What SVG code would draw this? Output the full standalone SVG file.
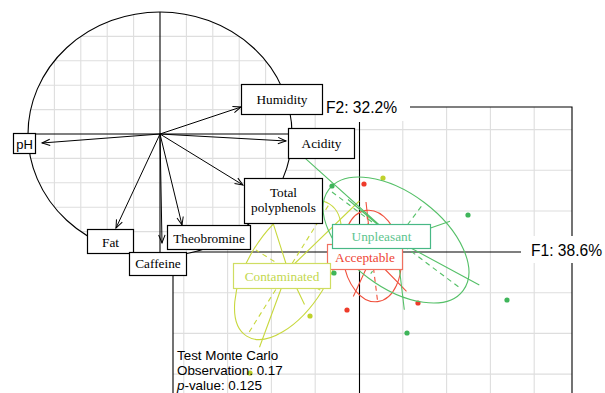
<svg xmlns="http://www.w3.org/2000/svg" width="605" height="393" viewBox="0 0 605 393">
  <defs>
    <clipPath id="frameClip"><rect x="173" y="107" width="399" height="300"/></clipPath>
    <clipPath id="circleClip"><ellipse cx="160" cy="134" rx="132" ry="122"/></clipPath>
    <marker id="arr" viewBox="-10 -5 12 10" refX="0" refY="0" markerWidth="12" markerHeight="10" markerUnits="userSpaceOnUse" orient="auto">
      <path d="M-8,-3.2 L0,0 L-8,3.2" fill="none" stroke="#000" stroke-width="1"/>
    </marker>
  </defs>
  <style>
    .grid { stroke:#dedede; stroke-width:1.1; fill:none; }
    .ax { stroke:#000; stroke-width:1.1; fill:none; }
    .box { fill:#fff; stroke:#000; stroke-width:1.2; }
    .serif { font-family:"Liberation Serif","Times New Roman",serif; font-size:13.3px; text-anchor:middle; }
    .sans { font-family:"Liberation Sans",Arial,sans-serif; }
    .dash { stroke-dasharray:5 4; }
    .grn { stroke:#55c068; fill:none; stroke-width:1.1; }
    .red { stroke:#f0503c; fill:none; stroke-width:1.1; }
    .yel { stroke:#c8d83e; fill:none; stroke-width:1.1; }
    .arrow { stroke:#000; stroke-width:1; marker-end:url(#arr); }
  </style>

  <!-- main factorial map: grid, frame, axes -->
  <g id="main-grid" clip-path="url(#frameClip)">
    <path class="grid" d="M183.8,107V393M227.6,107V393M271.4,107V393M315.2,107V393M402.8,107V393M446.6,107V393M490.4,107V393M534.2,107V393"/>
    <path class="grid" d="M173,129.6H572M173,170.3H572M173,211H572M173,292.7H572M173,333.4H572M173,374.1H572"/>
  </g>
  <path id="frame" class="ax" d="M173,400V107H572V400"/>
  <g id="axes">
    <line class="ax" x1="173" y1="252" x2="521" y2="252"/>
    <line class="ax" x1="359.5" y1="122" x2="359.5" y2="400"/>
  </g>

  <!-- class Contaminated -->
  <g id="class-contaminated">
    <ellipse class="yel" cx="288" cy="270" rx="78" ry="40" transform="rotate(-58 288 270)"/>
    <path class="yel dash" d="M328.3,205.6L247.7,334.4M320.2,290.1L255.8,249.9"/>
    <path class="yel" d="M288,270L359.3,201M288,270L304.5,304.5M288,270L259.5,347.3M288,270L273,222.8"/>
    <g fill="#bfd12c"><circle cx="383" cy="178" r="2.6"/><circle cx="310" cy="316" r="2.6"/><circle cx="250" cy="373" r="2.6"/></g>
  </g>

  <!-- class Acceptable -->
  <g id="class-acceptable">
    <ellipse class="red" cx="372" cy="256" rx="46" ry="29" transform="rotate(83 372 256)"/>
    <path class="red dash" d="M377.4,299.7L366.6,212.3M398.8,252.7L345.2,259.3"/>
    <path class="red" d="M372,256L366,202M372,256L353.3,296.5M372,256L406.5,291.3"/>
    <g fill="#ee3b2a"><circle cx="364" cy="184" r="2.6"/><circle cx="347" cy="310" r="2.6"/><circle cx="418" cy="303" r="2.6"/></g>
  </g>

  <!-- class Unpleasant -->
  <g id="class-unpleasant">
    <ellipse class="grn" cx="396" cy="240" rx="84" ry="47" transform="rotate(37 396 240)"/>
    <path class="grn dash" d="M332,192L460,288M421.3,206.4L370.7,273.6"/>
    <path class="grn" d="M396,240L305.3,158.3M396,240L348,199.5M396,240L450,221.3M396,240L349.5,264.8M396,240L404.3,309.8M396,240L479.3,285"/>
    <g fill="#3fb55a"><circle cx="332" cy="186" r="2.6"/><circle cx="468" cy="215" r="2.6"/><circle cx="334" cy="273" r="2.6"/><circle cx="407" cy="333" r="2.6"/><circle cx="507" cy="300" r="2.6"/></g>
  </g>

  <!-- class labels -->
  <g id="label-acceptable">
    <rect x="327.5" y="244.5" width="75" height="25" fill="#fff" stroke="#f07060" stroke-width="1.2"/>
    <text class="serif" x="365" y="261.5" fill="#ee4434">Acceptable</text>
  </g>
  <g id="label-contaminated">
    <rect x="233.5" y="263.5" width="97" height="25" fill="#fff" stroke="#cfdd62" stroke-width="1.2"/>
    <text class="serif" x="282" y="281" fill="#c3d84e">Contaminated</text>
  </g>
  <g id="label-unpleasant">
    <rect x="332.5" y="224.5" width="98" height="24" fill="#fff" stroke="#48b886" stroke-width="1.2"/>
    <text class="serif" x="381.5" y="241" fill="#5cc48e">Unpleasant</text>
  </g>

  <!-- axis titles -->
  <g id="axis-titles" class="sans" font-size="15.6px">
    <rect x="322" y="96" width="88" height="25" fill="#fff"/>
    <text x="326" y="113">F2: 32.2%</text>
    <rect x="521" y="236" width="84" height="27" fill="#fff"/>
    <text x="531" y="256">F1: 38.6%</text>
  </g>

  <!-- permutation test summary -->
  <g id="test-summary" class="sans" font-size="13.4px">
    <text x="177" y="360">Test Monte Carlo</text>
    <text x="177" y="375">Observation: 0.17</text>
    <text x="177" y="390"><tspan font-style="italic">p</tspan>-value: 0.125</text>
  </g>

  <!-- correlation circle -->
  <g id="corcircle">
    <ellipse cx="160" cy="134" rx="132" ry="122" fill="#fff"/>
    <g clip-path="url(#circleClip)">
      <path class="grid" d="M54.4,0V260M80.8,0V260M107.2,0V260M133.6,0V260M186.4,0V260M212.8,0V260M239.2,0V260M265.6,0V260"/>
      <path class="grid" d="M0,36.4H300M0,60.8H300M0,85.2H300M0,109.6H300M0,158.4H300M0,182.8H300M0,207.2H300M0,231.6H300"/>
    </g>
    <line class="ax" x1="28" y1="134" x2="292" y2="134"/>
    <line class="ax" x1="160" y1="12" x2="160" y2="256"/>
    <ellipse cx="160" cy="134" rx="132" ry="122" fill="none" stroke="#000" stroke-width="1.1"/>
  </g>

  <g id="loadings">
    <line class="arrow" x1="160" y1="134" x2="42" y2="143"/>
    <line class="arrow" x1="160" y1="134" x2="241" y2="107"/>
    <line class="arrow" x1="160" y1="134" x2="286" y2="141"/>
    <line class="arrow" x1="160" y1="134" x2="243" y2="185"/>
    <line class="arrow" x1="160" y1="134" x2="116" y2="228"/>
    <line class="arrow" x1="160" y1="134" x2="162" y2="243"/>
    <line class="arrow" x1="160" y1="134" x2="182" y2="225"/>
  </g>

  <g id="var-pH">
    <rect class="box" x="13.5" y="133.5" width="22" height="20"/>
    <text class="sans" x="24.5" y="148.5" font-size="13px" text-anchor="middle">pH</text>
  </g>
  <g id="var-humidity">
    <rect class="box" x="241.5" y="84.5" width="81" height="30"/>
    <text class="serif" x="282" y="104">Humidity</text>
  </g>
  <g id="var-acidity">
    <rect class="box" x="288.5" y="128.5" width="66" height="30"/>
    <text class="serif" x="321.5" y="148">Acidity</text>
  </g>
  <g id="var-polyphenols">
    <rect class="box" x="244.5" y="178.5" width="78" height="45"/>
    <text class="serif" x="283.5" y="197">Total</text>
    <text class="serif" x="283.5" y="212">polyphenols</text>
  </g>
  <g id="var-fat">
    <rect class="box" x="87.5" y="229.5" width="46" height="24"/>
    <text class="serif" x="110.5" y="246.5">Fat</text>
  </g>
  <g id="var-theobromine">
    <rect class="box" x="167.5" y="225.5" width="83" height="24"/>
    <text class="serif" x="209" y="242.5">Theobromine</text>
  </g>
  <g id="var-caffeine">
    <rect class="box" x="129.5" y="252.5" width="57" height="23"/>
    <text class="serif" x="158" y="268">Caffeine</text>
  </g>
</svg>
